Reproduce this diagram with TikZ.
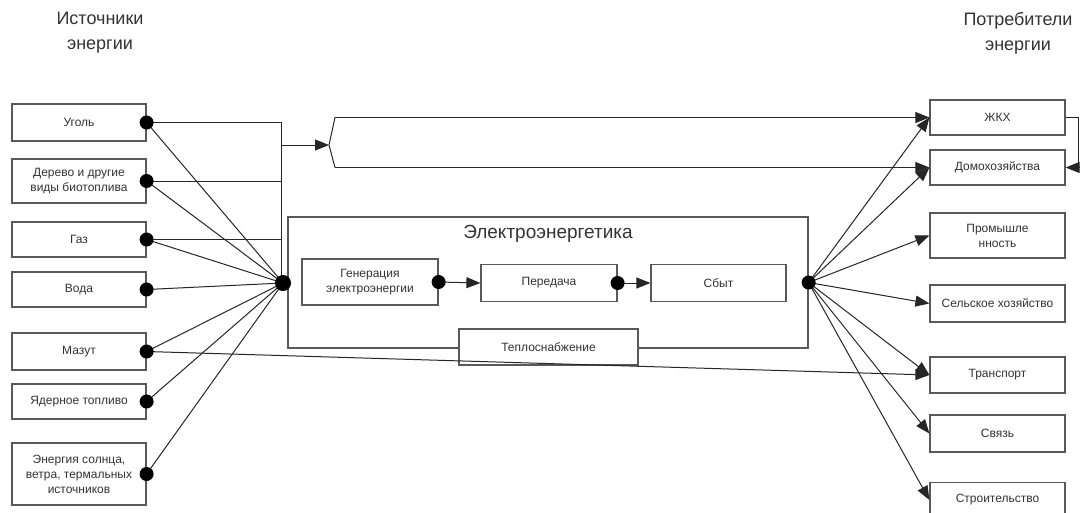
\documentclass[tikz,border=0pt]{standalone}
\usepackage{fontspec}
\setmainfont{Liberation Sans}
\usetikzlibrary{arrows.meta, positioning}

\begin{document}
\begin{tikzpicture}[
        x=1pt, y=-1pt,
        box/.style={draw=black!65, line width=1.2pt, fill=white, text=black!80, font=\fontsize{12}{15}\selectfont, align=center, inner sep=2pt},
        src/.style={box, minimum width=134pt},
        dst/.style={box, minimum width=135pt},
        link/.style={draw=black!85, line width=1pt},
        arr/.style={link, -{Triangle[length=14pt, width=11pt]}},
        head/.style={text=black!80, font=\fontsize{18}{25}\selectfont, align=center}
        ]
        \useasboundingbox (0,0) rectangle (1084,512);

        % Headings
        \node[head] (hsrc) at (100,33) {Источники\\энергии};
        \node[head] (hdst) at (1018,33) {Потребители\\энергии};

        % Sources
        \foreach \n/\y/\h/\t in {U/122.5/37/Уголь,
                D/181/44/{Дерево и другие\\виды биотоплива},
                G/239.5/35/Газ, W/289.5/35/Вода, M/351.5/37/Мазут,
                N/401.5/35/Ядерное топливо,
                S/474/62/{Энергия солнца,\\ветра, термальных\\источников}}
            \node[src, minimum height=\h pt] (\n) at (79,\y) {\t};

        % Consumers
        \foreach \n/\y/\h/\t in {ZKH/117.5/35/ЖКХ, Dom/167.5/35/Домохозяйства,
                Prom/235.5/45/{Промышле\\нность}, Sel/303.5/37/Сельское хозяйство,
                Tr/375/36/Транспорт, Sv/433.5/37/Связь, Str/500/35/Строительство}
            \node[dst, minimum height=\h pt] (\n) at (997.5,\y) {\t};

        % Power industry
        \node[draw=black!65, line width=1.2pt, minimum width=520pt, minimum height=131pt] (El) at (548,282.5) {};
        \node[head, font=\fontsize{19}{22}\selectfont] (title) at (548,234) {Электроэнергетика};
        \node[box, minimum width=136pt, minimum height=46pt] (Gen) at (370,282) {Генерация\\электроэнергии};
        \node[box, minimum width=136pt, minimum height=37pt] (Per) at (549,283) {Передача};
        \node[box, minimum width=135pt, minimum height=37pt] (Sb) at (718.5,283) {Сбыт};
        \node[box, minimum width=179pt, minimum height=36pt] (Tep) at (548.5,347) {Теплоснабжение};

        % Fuel oil to transport
        \draw[arr] (M.east) -- (Tr.west);

        % Collector and bracket
        \coordinate (hubL) at (283,283);
        \coordinate (c1) at (281,122.5);
        \coordinate (c0) at (281,145);
        \coordinate (bv) at (329,145);
        \coordinate (bt) at (335,117.5);
        \coordinate (bb) at (335,167.5);
        \draw[link] (U.east) -- (c1) -- (c1 |- hubL);
        \draw[link] (D.east) -- (D.east -| c1);
        \draw[link] (G.east) -- (G.east -| c1);
        \draw[arr] (c0) -- (bv);
        \draw[link] (bt) -- (bv) -- (bb);
        \draw[arr] (bt) -- (bt -| ZKH.west);
        \draw[arr] (bb) -- (bb -| Dom.west);
        \draw[arr] (ZKH.east) -- ++(13,0) |- (Dom.east);

        % Sources to power industry
        \foreach \n in {U,D,G,W,M,N,S} {
            \draw[link] (\n.east) -- (hubL);
            \fill[black] (\n.east) circle (7pt);
        }
        \fill[black] (hubL) circle (8pt);

        % Chain inside
        \draw[arr] (Gen.east) -- (Per.west);
        \draw[arr] (Per.east) -- (Sb.west);
        \fill[black] (Gen.east) circle (7pt);
        \fill[black] (Per.east) circle (7pt);

        % Power industry to consumers
        \foreach \n in {ZKH,Dom,Prom,Sel,Tr,Sv,Str}
            \draw[arr] (El.east) -- (\n.west);
        \fill[black] (El.east) circle (7pt);

    \end{tikzpicture}
\end{document}
